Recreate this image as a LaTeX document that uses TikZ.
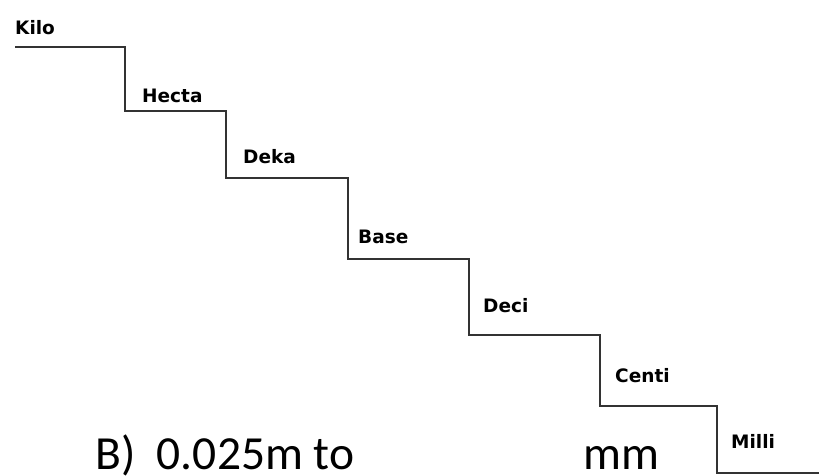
\documentclass[tikz,border=0pt]{standalone}
\usepackage{fontspec}
\setmainfont{Carlito}
\newfontfamily\stepfont{DejaVu Sans}
\usetikzlibrary{positioning}

\begin{document}
\begin{tikzpicture}[x=1pt, y=-1pt,
  stair/.style={draw=black!80, line width=1.5pt, line join=miter},
  unit/.style={font=\stepfont\bfseries\fontsize{18.5}{18.5}\selectfont, anchor=base west, inner sep=0pt},
  task/.style={font=\fontsize{47.5}{47.5}\selectfont, anchor=base west, inner sep=0pt, text depth=0pt}]
\useasboundingbox (0,0) rectangle (819,476);

% corners of the stairs
\coordinate (k0) at (15,47);
\coordinate (k1) at (125,47);
\coordinate (h0) at (125,111);
\coordinate (h1) at (226,111);
\coordinate (d0) at (226,178);
\coordinate (d1) at (348,178);
\coordinate (b0) at (348,259);
\coordinate (b1) at (469,259);
\coordinate (e0) at (469,335);
\coordinate (e1) at (600,335);
\coordinate (c0) at (600,406);
\coordinate (c1) at (717,406);
\coordinate (m0) at (717,473);
\coordinate (m1) at (819,473);

\draw[stair] (k0) -- (k1) -- (h0) -- (h1) -- (d0) -- (d1) -- (b0) -- (b1)
             -- (e0) -- (e1) -- (c0) -- (c1) -- (m0) -- (m1);

% units
\node[unit] (kilo)  at (15,35)   {Kilo};
\node[unit] (hecta) at (142,103) {Hecta};
\node[unit] (deka)  at (243,163) {Deka};
\node[unit] (base)  at (358,243) {Base};
\node[unit] (deci)  at (483,312) {Deci};
\node[unit] (centi) at (615,382) {Centi};
\node[unit] (milli) at (731,448) {Milli};

% question
\node[task] (question) at (95,469) {B)~~0.025m to};
\node[task] (answer)   at (583,469) {mm};
\end{tikzpicture}
\end{document}
